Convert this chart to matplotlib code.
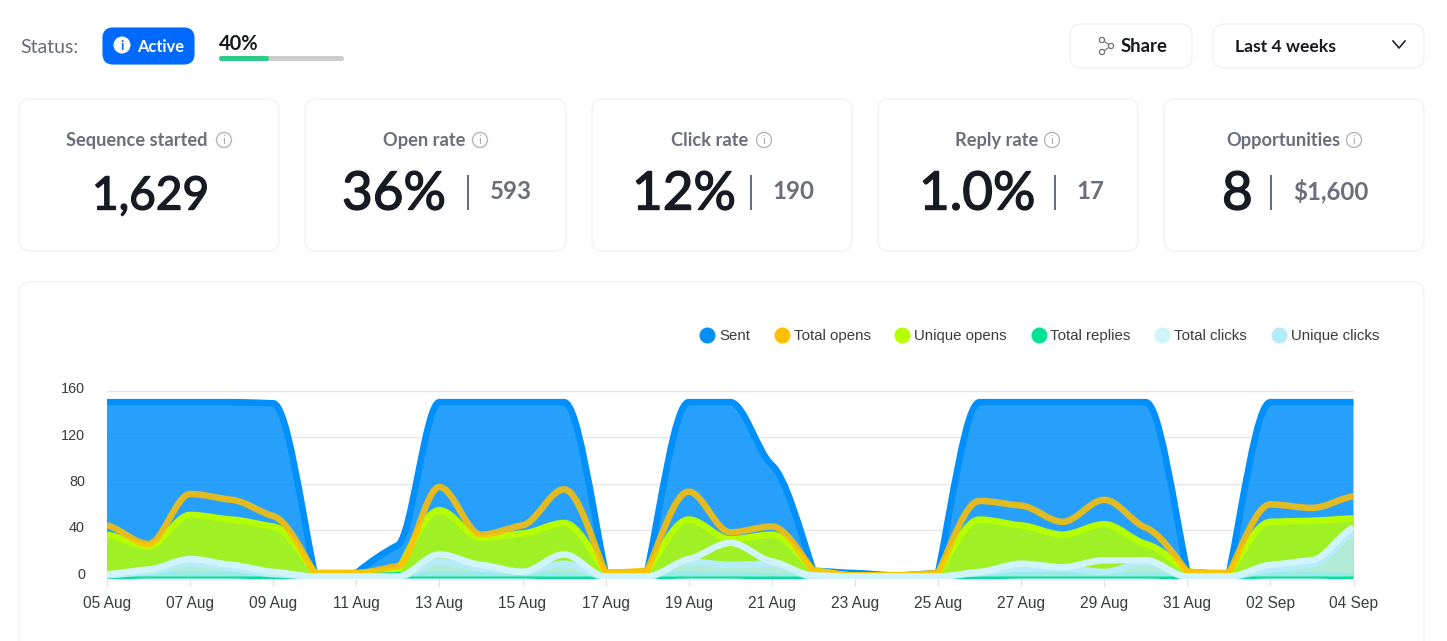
import numpy as np
import matplotlib
matplotlib.use("Agg")
import matplotlib.pyplot as plt
import matplotlib.patheffects as pe
from matplotlib.patches import FancyBboxPatch, PathPatch, Circle, Rectangle
from matplotlib.path import Path
from matplotlib.lines import Line2D
from matplotlib.transforms import ScaledTranslation

# ---------- data ----------
dates = ["05 Aug","06 Aug","07 Aug","08 Aug","09 Aug","10 Aug","11 Aug","12 Aug","13 Aug","14 Aug","15 Aug",
         "16 Aug","17 Aug","18 Aug","19 Aug","20 Aug","21 Aug","22 Aug","23 Aug","24 Aug","25 Aug","26 Aug",
         "27 Aug","28 Aug","29 Aug","30 Aug","31 Aug","01 Sep","02 Sep","03 Sep","04 Sep"]
sent = [150,150,150,150,149,2,3,27,150,150,150,150,3,4,150,150,96,5,3,1,3,150,150,150,150,150,4,2,150,150,150]
total_opens = [44,28,71,66,52,3,3,9,77,36,44,75,3,5,73,38,43,5,1,1,3,65,61,47,66,42,4,3,62,59,69]
unique_opens = [36,26,53,49,43,3,3,5,57,33,37,46,3,4,49,32,36,5,1,1,2,49,44,36,45,28,4,2,47,48,50]
total_replies = [0,1,1,1,0,0,0,1,1,1,1,0,0,0,1,1,0,0,0,0,0,0,1,1,1,1,0,0,1,1,0]
reply_band = [1,3,5,4,2,0,0,0,5,4,3,4,0,0,5,3,3,0,0,0,0,2,4,4,3,3,0,0,3,3,2]
total_clicks = [2,6,15,10,4,0,0,0,19,10,4,19,0,0,15,29,13,1,0,0,0,4,11,8,14,14,0,0,10,14,42]
unique_clicks = [1,4,11,7,2,0,0,0,13,7,4,11,0,0,13,10,11,0,0,0,0,3,7,7,4,12,0,0,6,10,37]
y_ticks = [0, 40, 80, 120, 160]
legend_names = ["Sent", "Total opens", "Unique opens", "Total replies", "Total clicks", "Unique clicks"]
legend_colors = ["#008FFB", "#FFBF00", "#B6FF00", "#00E396", "#D1F3FB", "#B5ECF8"]

card_titles = ["Sequence started", "Open rate", "Click rate", "Reply rate", "Opportunities"]
card_main = ["1,629", "36%", "12%", "1.0%", "8"]
card_sub = ["", "593", "190", "17", "$1,600"]

# ---------- figure ----------
W, H = 1447, 641
fig = plt.figure(figsize=(W / 100, H / 100), dpi=100, facecolor="white")
px = 0.72
UI = "Lato"
ui = fig.add_axes([0, 0, 1, 1], zorder=0)
ui.set_xlim(0, W); ui.set_ylim(H, 0); ui.axis("off")

def box(x0, y0, x1, y1, fc="white", ec="#ECEEF3", r=11, lw=0.8, z=1):
    ui.add_patch(FancyBboxPatch((x0, y0), x1 - x0, y1 - y0, boxstyle=f"round,pad=0,rounding_size={r}",
                                fc=fc, ec=ec, lw=lw, zorder=z, clip_on=True))

def txt(x, y, s, size, color, ha="left", va="baseline", weight="normal", family=UI, stroke=0):
    t = ui.text(x, y, s, fontsize=size * px, color=color, ha=ha, va=va, fontweight=weight, family=family, zorder=5)
    if stroke:
        t.set_path_effects([pe.withStroke(linewidth=stroke, foreground=color)])

def info(x, y):
    ui.add_patch(Circle((x, y), 7.5, fc="none", ec="#B4B6BC", lw=1.0, zorder=5))
    txt(x, y + 0.5, "i", 11, "#A0A3AA", ha="center", va="center")

# header row
txt(20, 53, "Status:", 19.5, "#666B75")
box(103, 28, 194, 64, fc="#0069FF", ec="#0069FF", r=10)
ui.add_patch(Circle((122, 45), 8.5, fc="white", ec="none", zorder=5))
txt(122, 45.5, "i", 13, "#0069FF", ha="center", va="center", weight="bold")
txt(137, 52, "Active", 16.5, "white", weight="bold")
txt(219, 50, "40%", 20, "#15181F", weight="bold")
box(219, 56, 344, 61, fc="#CCCCCC", ec="#CCCCCC", r=2.5, lw=0)
box(219, 56, 269, 61, fc="#2DCB8A", ec="#2DCB8A", r=2.5, lw=0, z=2)

box(1070, 24, 1192, 68)
box(1213, 24, 1424, 68)
share_pts = [(1102, 40), (1111, 46), (1102, 52)]
ui.add_line(Line2D([p[0] for p in share_pts], [p[1] for p in share_pts], color="#7A7D85", lw=0.9, zorder=5))
for p in share_pts:
    ui.add_patch(Circle(p, 2.6, fc="white", ec="#6F7279", lw=0.9, zorder=6))
txt(1121, 52, "Share", 18.5, "#15181F", weight="bold")
txt(1235, 52, "Last 4 weeks", 17.5, "#15181F", weight="bold")
ui.add_line(Line2D([1393, 1399, 1405], [41, 48, 41], color="#20242C", lw=1.2, zorder=5))

# metric cards
card_x = [(19, 279), (305, 566), (592, 852), (878, 1138), (1164, 1424)]
title_x = [66, 383, 671, 955, 1226]
icon_x = [224, 480, 764, 1052, 1354]
main_x = [92, 342, 632, 919, 1222]
main_size = [46, 53, 53, 53, 53]
bar_x = [None, 468, 751, 1055, 1271]
sub_x = [None, 490, 772, 1076, 1293]
for i in range(5):
    box(card_x[i][0], 99, card_x[i][1], 251)
    txt(title_x[i], 146, card_titles[i], 18.3, "#6B6F7B", weight="bold")
    info(icon_x[i], 140)
    txt(main_x[i], 209.5, card_main[i], main_size[i], "#171A23", stroke=1.0)
    if card_sub[i]:
        ui.add_patch(Rectangle((bar_x[i] - 1.2, 175), 2.5, 35, fc="#5F6F86", ec="none", zorder=5))
        txt(sub_x[i], 199, card_sub[i], 24, "#6B6F7B", weight="bold")

# chart card (runs past the bottom edge)
box(19, 282, 1424, 680)

# ---------- chart ----------
x_left, x_right, y_top, y_bot = 107.0, 1353.5, 388.0, 579.0
ppu = 46.5 / 40
ax = fig.add_axes([x_left / W, 1 - y_bot / H, (x_right - x_left) / W, (y_bot - y_top) / H], zorder=2)
ax.patch.set_alpha(0)
ax.set_xlim(0, len(dates) - 1)
ax.set_ylim(-(y_bot - 576.5) / ppu, (576.5 - y_top) / ppu)
for s in ax.spines.values():
    s.set_visible(False)

def spline_path(values, close=False):
    """Bezier path through the daily values: nearly flat at each value, sharp where a large step meets the floor."""
    y = np.asarray(values, float)
    n = len(y)
    d = np.diff(y)
    m = np.zeros(n)
    for i in range(1, n - 1):
        if d[i - 1] * d[i] > 0:
            m[i] = 0.45 * 2 * d[i - 1] * d[i] / (d[i - 1] + d[i])
    m[0], m[-1] = d[0] * 0.5, d[-1] * 0.5
    verts = [(0, y[0])]
    codes = [Path.MOVETO]
    for i in range(n - 1):
        m0, m1 = m[i], m[i + 1]
        if abs(d[i]) > 20:
            if y[i] <= 7:
                m0 = 1.2 * d[i]
            if y[i + 1] <= 7:
                m1 = 1.2 * d[i]
        verts += [(i + 1 / 3, y[i] + m0 / 3), (i + 2 / 3, y[i + 1] - m1 / 3), (i + 1, y[i + 1])]
        codes += [Path.CURVE4] * 3
    if close:
        verts += [(n - 1, 0), (0, 0), (0, 0)]
        codes += [Path.LINETO, Path.LINETO, Path.CLOSEPOLY]
    return Path(verts, codes)

LW = 6.5 * px
def fill(values, color, alpha=0.85, z=1):
    ax.add_patch(PathPatch(spline_path(values, True), fc=color, ec="none", alpha=alpha, zorder=z))

def curve(values, color, alpha=1.0, z=1, lw=LW):
    ax.add_patch(PathPatch(spline_path(values), fc="none", ec=color, alpha=alpha, lw=lw, zorder=z,
                           capstyle="butt", joinstyle="round"))

fill(sent, legend_colors[0], z=3)
curve(sent, legend_colors[0], z=3.1)
fill(unique_opens, legend_colors[2], z=3.2)
curve(unique_opens, legend_colors[2], z=3.3)
curve(total_opens, legend_colors[1], alpha=0.87, z=3.4)
fill(reply_band, "#00E396", alpha=0.75, z=3.5)
curve(total_replies, legend_colors[3], z=3.6)
fill(unique_clicks, legend_colors[5], z=3.7)
curve(unique_clicks, legend_colors[5], z=3.8)
curve(total_clicks, legend_colors[4], z=3.9)

ax.set_yticks(y_ticks)
ax.set_xticks(range(0, len(dates), 2))
ax.set_xticklabels(dates[::2])
ax.grid(axis="y", color="#E6E6E6", lw=1.4 * px, zorder=0)
ax.set_axisbelow(True)
ax.tick_params(axis="y", length=0, pad=22 * px, labelsize=14.4 * px, labelcolor="#373D3F")
ax.tick_params(axis="x", length=7 * px, width=1.2 * px, color="#E0E0E0", pad=10 * px,
               labelsize=15.5 * px, labelcolor="#373D3F")
for lab in ax.get_xticklabels() + ax.get_yticklabels():
    lab.set_family("Liberation Sans")
for lab in ax.get_yticklabels():
    lab.set_transform(lab.get_transform() + ScaledTranslation(0, 3 / 100, fig.dpi_scale_trans))

handles = [Line2D([], [], ls="none", marker="o", ms=16 * px, mfc=c, mec=c, mew=0, label=n)
           for n, c in zip(legend_names, legend_colors)]
fig.legend(handles=handles, ncol=6, loc="center right", bbox_to_anchor=(1379 / W, 1 - 336 / H), frameon=False,
           prop={"family": "Liberation Sans", "size": 15 * px}, labelcolor="#373D3F",
           handlelength=1.0, handletextpad=0.3, columnspacing=1.6, borderpad=0, borderaxespad=0)

fig.savefig("out.png", dpi=100, facecolor="white")
